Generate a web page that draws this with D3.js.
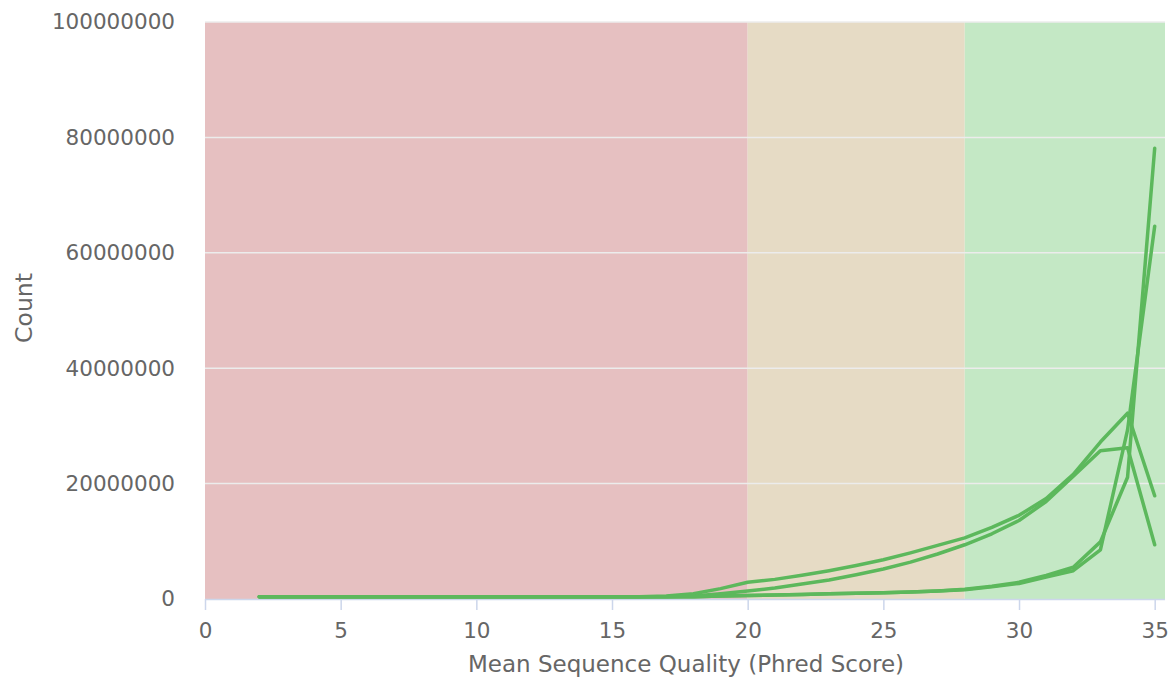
<!DOCTYPE html>
<html>
<head>
<meta charset="utf-8">
<script src="https://cdn.jsdelivr.net/npm/d3@7"></script>
<style>
  html, body { margin: 0; padding: 0; background: #ffffff; }
  svg { display: block; }
</style>
</head>
<body>
<svg id="chart" width="1173" height="690"></svg>
<script>
// ---- data (counts in reads) ----
const quality = [2,3,4,5,6,7,8,9,10,11,12,13,14,15,16,17,18,19,20,21,22,23,24,25,26,27,28,29,30,31,32,33,34,35];
const sampleA = [0.4e6,0.4e6,0.4e6,0.4e6,0.4e6,0.4e6,0.4e6,0.4e6,0.4e6,0.4e6,0.4e6,0.4e6,0.4e6,0.4e6,0.4e6,0.5e6,0.9e6,1.8e6,2.9e6,3.4e6,4.1e6,4.9e6,5.8e6,6.8e6,8.0e6,9.3e6,10.6e6,12.4e6,14.5e6,17.4e6,21.6e6,27.2e6,32.2e6,17.9e6];
const sampleB = [0.4e6,0.4e6,0.4e6,0.4e6,0.4e6,0.4e6,0.4e6,0.4e6,0.4e6,0.4e6,0.4e6,0.4e6,0.4e6,0.4e6,0.4e6,0.4e6,0.5e6,0.9e6,1.4e6,1.9e6,2.6e6,3.3e6,4.2e6,5.2e6,6.4e6,7.8e6,9.4e6,11.3e6,13.6e6,16.9e6,21.3e6,25.7e6,26.2e6,9.4e6];
const sampleC = [0.4e6,0.4e6,0.4e6,0.4e6,0.4e6,0.4e6,0.4e6,0.4e6,0.4e6,0.4e6,0.4e6,0.4e6,0.4e6,0.4e6,0.4e6,0.4e6,0.4e6,0.5e6,0.6e6,0.7e6,0.8e6,0.9e6,1.0e6,1.1e6,1.2e6,1.4e6,1.7e6,2.2e6,2.9e6,4.1e6,5.5e6,9.9e6,21.1e6,78.1e6];
const sampleD = [0.4e6,0.4e6,0.4e6,0.4e6,0.4e6,0.4e6,0.4e6,0.4e6,0.4e6,0.4e6,0.4e6,0.4e6,0.4e6,0.4e6,0.4e6,0.4e6,0.4e6,0.5e6,0.6e6,0.7e6,0.8e6,0.9e6,1.0e6,1.1e6,1.2e6,1.4e6,1.6e6,2.1e6,2.7e6,3.8e6,4.9e6,8.5e6,29.3e6,64.6e6];
const seriesList = [sampleA, sampleB, sampleC, sampleD];

const xTicks = [0,5,10,15,20,25,30,35];
const yTicks = [0,20000000,40000000,60000000,80000000,100000000];

const bandStarts = [0, 20, 28];
const bandEnds   = [20, 28, 35.38];
const bandColors = ["#e6c0c1", "#e6dbc5", "#c4e8c5"];

// ---- layout ----
const svg = d3.select("#chart");
const plotLeft = 205, plotRight = 1165, plotTop = 22, plotBottom = 599;
const font = "'DejaVu Sans', sans-serif";

const x = d3.scaleLinear().domain([0, 35.38]).range([plotLeft, plotRight]);
const y = d3.scaleLinear().domain([0, 100000000]).range([plotBottom, plotTop]);

// bands
svg.append("g").selectAll("rect").data(bandStarts).join("rect")
  .attr("x", (d) => x(d))
  .attr("y", plotTop)
  .attr("width", (d, i) => x(bandEnds[i]) - x(d))
  .attr("height", plotBottom - plotTop)
  .attr("fill", (d, i) => bandColors[i]);

// grid lines
svg.append("g").selectAll("line").data(yTicks.filter(v => v > 0)).join("line")
  .attr("x1", plotLeft).attr("x2", plotRight)
  .attr("y1", d => y(d)).attr("y2", d => y(d))
  .attr("stroke", "#ececec").attr("stroke-width", 1.5);

// y axis labels
const yAxis = d3.axisLeft(y).tickValues(yTicks).tickSize(0).tickPadding(30).tickFormat(d3.format("d"));
const gy = svg.append("g").attr("transform", `translate(${plotLeft},0)`).call(yAxis);
gy.select(".domain").remove();
gy.selectAll("text").attr("fill", "#666666").style("font-family", font).style("font-size", "21.5px");

// x axis
const xAxis = d3.axisBottom(x).tickValues(xTicks).tickSize(11).tickPadding(13).tickFormat(d3.format("d"));
const gx = svg.append("g").attr("transform", `translate(0,${plotBottom})`).call(xAxis);
gx.select(".domain").attr("stroke", "#ccd6eb").attr("stroke-width", 1.5).attr("d", `M${plotLeft},0.5H${plotRight}`);
gx.selectAll(".tick line").attr("stroke", "#ccd6eb").attr("stroke-width", 1.5);
gx.selectAll("text").attr("fill", "#666666").style("font-family", font).style("font-size", "21.5px");

// lines
const line = d3.line().x((d, i) => x(quality[i])).y(d => y(d));
svg.append("g").selectAll("path").data(seriesList).join("path")
  .attr("d", line)
  .attr("fill", "none")
  .attr("stroke", "#5cb85c")
  .attr("stroke-width", 3.5)
  .attr("stroke-linejoin", "round")
  .attr("stroke-linecap", "round");

// axis titles
svg.append("text")
  .attr("x", 686).attr("y", 672)
  .attr("text-anchor", "middle")
  .attr("fill", "#666666")
  .style("font-family", font).style("font-size", "23px")
  .text("Mean Sequence Quality (Phred Score)");

svg.append("text")
  .attr("transform", "translate(32,308) rotate(-90)")
  .attr("text-anchor", "middle")
  .attr("fill", "#666666")
  .style("font-family", font).style("font-size", "23.5px")
  .text("Count");
</script>
</body>
</html>
